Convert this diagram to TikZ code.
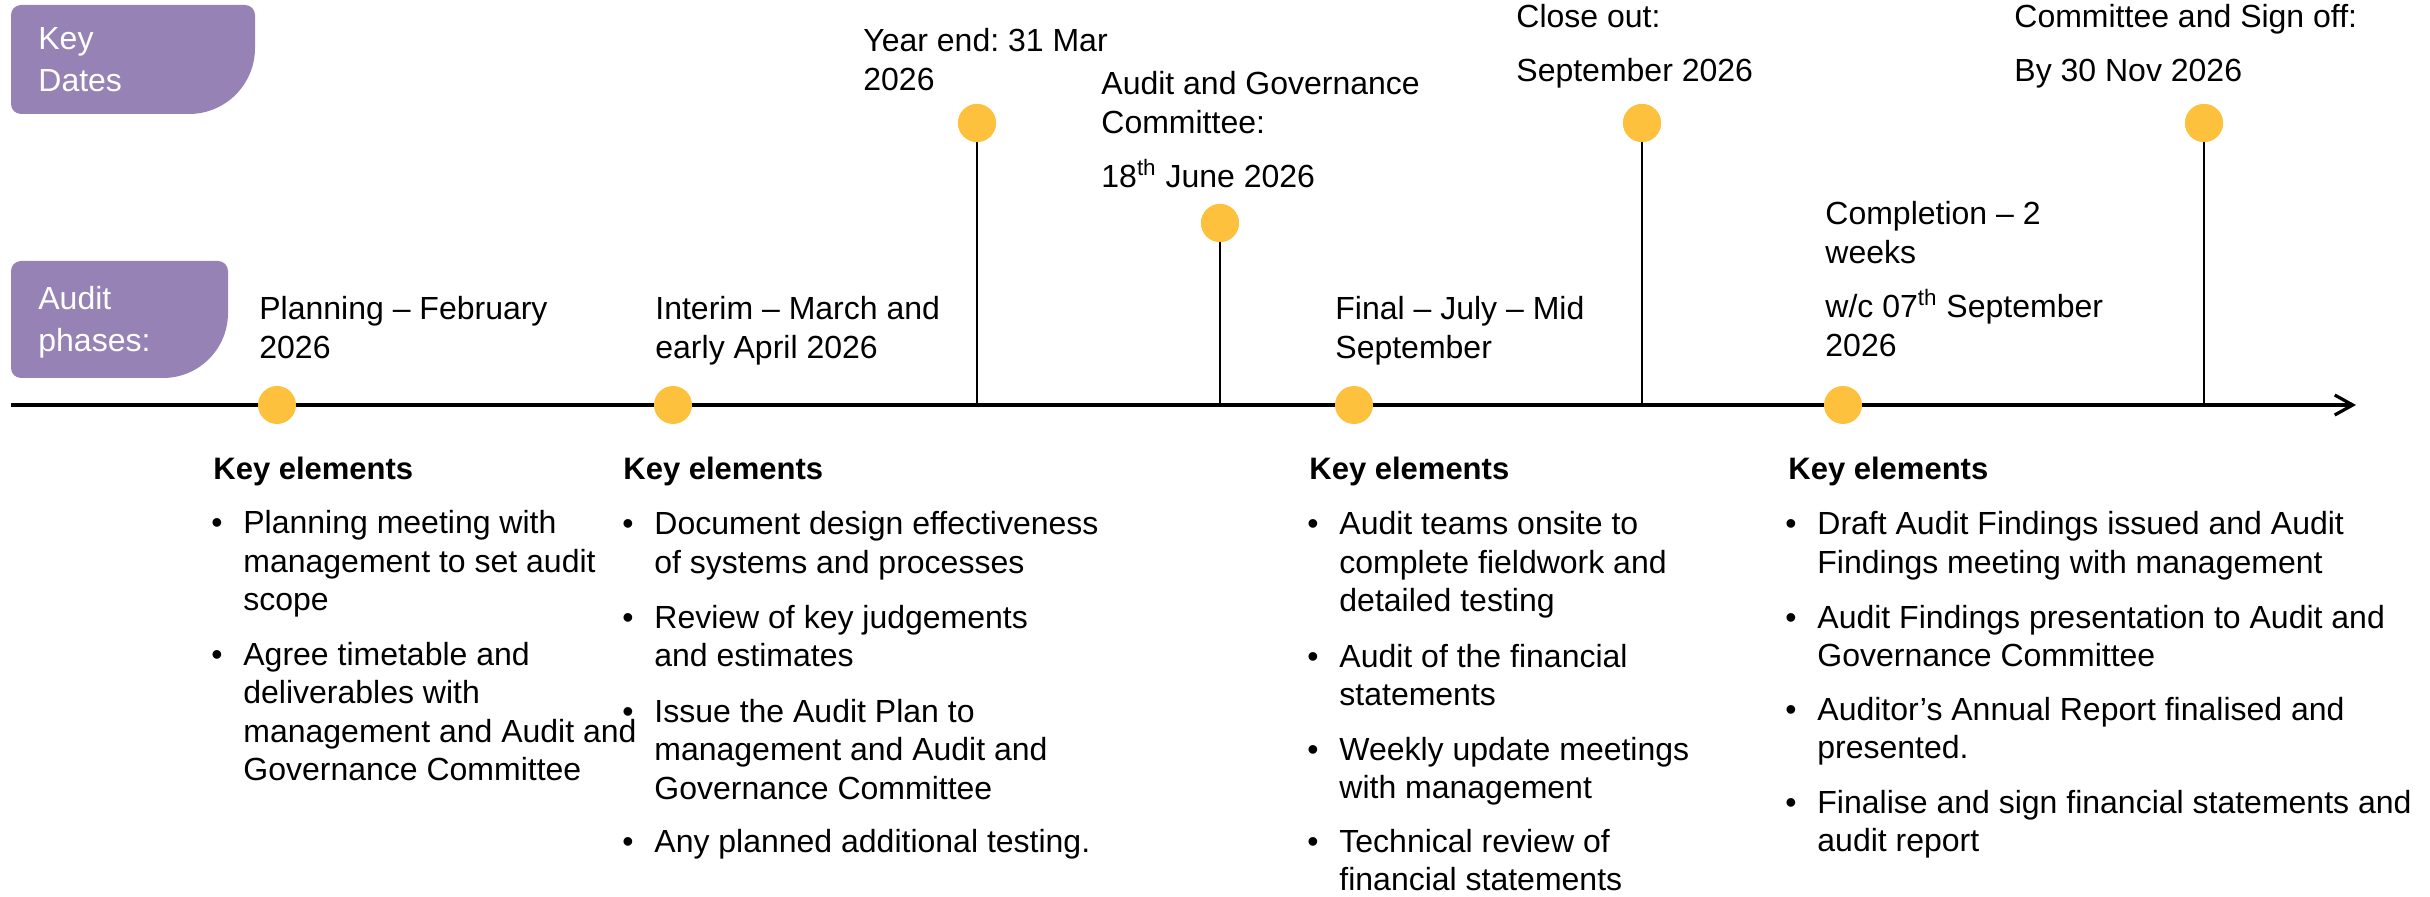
\documentclass[tikz,border=0pt]{standalone}
\usepackage{fontspec}
\setmainfont{Liberation Sans}
\usetikzlibrary{arrows.meta}

\definecolor{boxpurple}{RGB}{150,130,180}
\definecolor{dotgold}{RGB}{253,193,62}

% multi-line text block whose reference point is the first baseline
\newcommand\lineset[1]{\vtop{\baselineskip=19.25pt\halign{##\hfil\cr#1\crcr}}}
\newcommand\boxlines[1]{\vtop{\baselineskip=21pt\halign{##\hfil\cr#1\crcr}}}

\begin{document}
\frenchspacing
\begin{tikzpicture}[x=0.5pt,y=-0.5pt,
  txt/.style={anchor=base west, inner sep=0pt, font=\fontsize{16}{19.25}\selectfont},
  head/.style={anchor=base west, inner sep=0pt, font=\fontsize{15.5}{19}\selectfont\bfseries},
  boxtext/.style={anchor=base west, inner sep=0pt, text=white, font=\fontsize{16}{21}\selectfont},
  bul/.style={anchor=base west, inner sep=0pt, font=\fontsize{16}{19.25}\selectfont},
  dot/.style={circle, fill=dotgold, minimum size=19pt, inner sep=0pt},
  stem/.style={line width=1.4pt},
  timeline/.style={line width=2.2pt, -{Straight Barb[length=9pt,width=10pt,line width=1.6pt]}}
]
\useasboundingbox (0,0) rectangle (2430,897);

% ---- label tabs ----
\fill[boxpurple] (11,15) -- (11,104) .. controls (11,109.5) and (15.5,114) .. (21,114)
  -- (189,114) .. controls (225.5,114) and (255,84.5) .. (255,48)
  -- (255,15) .. controls (255,9.5) and (250.5,5) .. (245,5)
  -- (21,5) .. controls (15.5,5) and (11,9.5) .. (11,15) -- cycle;
\fill[boxpurple] (11,271) -- (11,368) .. controls (11,373.5) and (15.5,378) .. (21,378)
  -- (163,378) .. controls (198.9,378) and (228,348.9) .. (228,313)
  -- (228,271) .. controls (228,265.5) and (223.5,261) .. (218,261)
  -- (21,261) .. controls (15.5,261) and (11,265.5) .. (11,271) -- cycle;
\node[boxtext] (keydates) at (38,50) {\boxlines{Key\cr Dates}};
\node[boxtext] (phases) at (38,310) {\boxlines{Audit\cr phases:}};

% ---- timeline ----
\coordinate (tlstart) at (11,405);
\coordinate (tlend) at (2356,405);
\draw[timeline] (tlstart) -- (tlend);

% ---- key date markers ----
\coordinate (yebase) at (977,405);
\coordinate (agcbase) at (1220,405);
\coordinate (cobase) at (1642,405);
\coordinate (sobase) at (2204,405);
\node[dot] (yedot) at (977,123) {};
\node[dot] (agcdot) at (1220,223) {};
\node[dot] (codot) at (1642,123) {};
\node[dot] (sodot) at (2204,123) {};
\draw[stem] (yedot.center) -- (yebase);
\draw[stem] (agcdot.center) -- (agcbase);
\draw[stem] (codot.center) -- (cobase);
\draw[stem] (sodot.center) -- (sobase);
\node[dot] at (yedot) {};
\node[dot] at (agcdot) {};
\node[dot] at (codot) {};
\node[dot] at (sodot) {};

\node[txt] (yetxt) at (863,52) {\lineset{Year end: 31 Mar\cr 2026}};
\node[txt] (agctxt) at (1101,95) {\lineset{Audit and Governance\cr Committee:}};
\node[txt] (agcdate) at (1101,188) {18\textsuperscript{th} June 2026};
\node[txt] (cotxt) at (1516,28) {Close out:};
\node[txt] (codate) at (1516,82) {September 2026};
\node[txt] (sotxt) at (2014,28) {Committee and Sign off:};
\node[txt] (sodate) at (2014,82) {By 30 Nov 2026};

% ---- phase markers ----
\node[dot] (pldot) at (277,405) {};
\node[dot] (indot) at (673,405) {};
\node[dot] (fidot) at (1354,405) {};
\node[dot] (codot2) at (1843,405) {};

\node[txt] (pltxt) at (259,320) {\lineset{Planning – February\cr 2026}};
\node[txt] (intxt) at (655,320) {\lineset{Interim – March and\cr early April 2026}};
\node[txt] (fitxt) at (1335,320) {\lineset{Final – July – Mid\cr September}};
\node[txt] (cmtxt) at (1825,225) {\lineset{Completion – 2\cr weeks}};
\node[txt] (cmdate) at (1825,318) {\lineset{w/c 07\textsuperscript{th} September\cr 2026}};

% ---- planning ----
\node[head] (plhead) at (213,480) {Key elements};
\node[bul] (plb1) at (211,534) {•};
\node[txt] (pli1) at (243,534) {\lineset{Planning meeting with\cr management to set audit\cr scope}};
\node[bul] (plb2) at (211,665) {•};
\node[txt] (pli2) at (243,665) {\lineset{Agree timetable and\cr deliverables with\cr management and Audit and\cr Governance Committee}};

% ---- interim ----
\node[head] (inhead) at (623,480) {Key elements};
\node[bul] (inb1) at (622,535) {•};
\node[txt] (ini1) at (654,535) {\lineset{Document design effectiveness\cr of systems and processes}};
\node[bul] (inb2) at (622,628) {•};
\node[txt] (ini2) at (654,628) {\lineset{Review of key judgements\cr and estimates}};
\node[bul] (inb3) at (622,722) {•};
\node[txt] (ini3) at (654,722) {\lineset{Issue the Audit Plan to\cr management and Audit and\cr Governance Committee}};
\node[bul] (inb4) at (622,852) {•};
\node[txt] (ini4) at (654,852) {Any planned additional testing.};

% ---- final ----
\node[head] (fihead) at (1309,480) {Key elements};
\node[bul] (fib1) at (1307,535) {•};
\node[txt] (fii1) at (1339,535) {\lineset{Audit teams onsite to\cr complete fieldwork and\cr detailed testing}};
\node[bul] (fib2) at (1307,667) {•};
\node[txt] (fii2) at (1339,667) {\lineset{Audit of the financial\cr statements}};
\node[bul] (fib3) at (1307,760) {•};
\node[txt] (fii3) at (1339,760) {\lineset{Weekly update meetings\cr with management}};
\node[bul] (fib4) at (1307,852) {•};
\node[txt] (fii4) at (1339,852) {\lineset{Technical review of\cr financial statements}};

% ---- completion ----
\node[head] (cmhead) at (1788,480) {Key elements};
\node[bul] (cmb1) at (1785,535) {•};
\node[txt] (cmi1) at (1817,535) {\lineset{Draft Audit Findings issued and Audit\cr Findings meeting with management}};
\node[bul] (cmb2) at (1785,628) {•};
\node[txt] (cmi2) at (1817,628) {\lineset{Audit Findings presentation to Audit and\cr Governance Committee}};
\node[bul] (cmb3) at (1785,720) {•};
\node[txt] (cmi3) at (1817,720) {\lineset{Auditor’s Annual Report finalised and\cr presented.}};
\node[bul] (cmb4) at (1785,813) {•};
\node[txt] (cmi4) at (1817,813) {\lineset{Finalise and sign financial statements and\cr audit report}};
\end{tikzpicture}
\end{document}
